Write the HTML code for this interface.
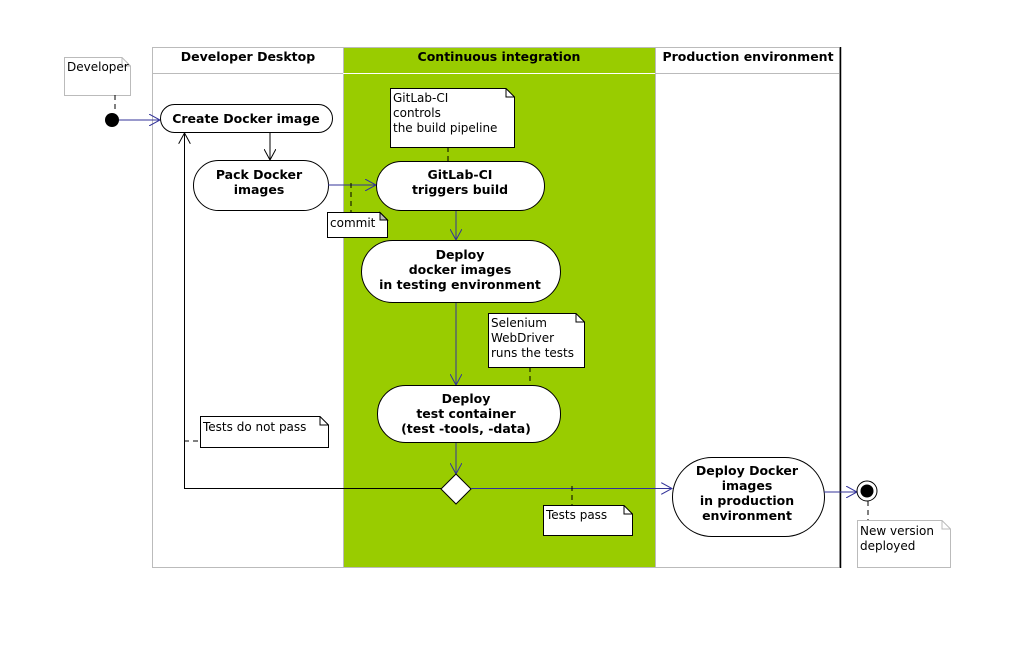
<!DOCTYPE html>
<html><head><meta charset="utf-8"><style>
html,body{margin:0;padding:0;background:#fff}
svg{display:block}
text{font-family:"DejaVu Sans","Liberation Sans",sans-serif}
.b{font-size:12.5px;font-weight:bold;text-anchor:middle}
.n{font-size:12px}
</style></head><body>
<svg width="1015" height="648" viewBox="0 0 1015 648" xmlns="http://www.w3.org/2000/svg">
<defs>
<marker id="ab" markerWidth="12" markerHeight="12" refX="11" refY="6" orient="auto" markerUnits="userSpaceOnUse"><path d="M0,0 L11,6 L0,12" fill="none" stroke="#333399" stroke-width="1"/></marker>
<marker id="ak" markerWidth="12" markerHeight="12" refX="11" refY="6" orient="auto" markerUnits="userSpaceOnUse"><path d="M0,0 L11,6 L0,12" fill="none" stroke="#000" stroke-width="1"/></marker>
</defs>
<!-- lanes -->
<rect x="343" y="47" width="312" height="521" fill="#99cc00"/>
<rect x="152.5" y="47.5" width="687" height="520" fill="none" stroke="#bbb"/>
<line x1="343.5" y1="47" x2="343.5" y2="568" stroke="#bbb"/>
<line x1="655.5" y1="47" x2="655.5" y2="568" stroke="#bbb"/>
<line x1="152" y1="73.5" x2="343" y2="73.5" stroke="#bbb"/>
<line x1="343" y1="73.5" x2="655" y2="73.5" stroke="#fff"/>
<line x1="655" y1="73.5" x2="840" y2="73.5" stroke="#bbb"/>
<line x1="840.5" y1="47" x2="840.5" y2="568" stroke="#000" stroke-width="1.5"/>
<text class="b" x="248" y="61">Developer Desktop</text>
<text class="b" x="499" y="61">Continuous integration</text>
<text class="b" x="748" y="61">Production environment</text>

<!-- Developer note -->
<path d="M64.5,57.5 H122 L130.5,66 V95.5 H64.5 Z" fill="#fff" stroke="#bbb"/>
<path d="M122,57.5 V66 H130.5" fill="none" stroke="#bbb"/>
<text class="n" x="67" y="71">Developer</text>
<line x1="115" y1="95" x2="115" y2="112" stroke="#000" stroke-dasharray="5,4"/>
<circle cx="112" cy="120" r="7" fill="#000"/>
<line x1="119" y1="120" x2="160" y2="120" stroke="#333399" marker-end="url(#ab)"/>

<!-- Create Docker image -->
<rect x="160.5" y="104.5" width="172" height="28" rx="14" fill="#fff" stroke="#000"/>
<text class="b" x="246" y="123">Create Docker image</text>
<line x1="270" y1="133" x2="270" y2="160" stroke="#000" marker-end="url(#ak)"/>

<!-- Pack -->
<rect x="193.5" y="160.5" width="135" height="50" rx="25" fill="#fff" stroke="#000"/>
<text class="b" x="259" y="179">Pack Docker</text>
<text class="b" x="259" y="194">images</text>
<line x1="328" y1="185" x2="376" y2="185" stroke="#333399" marker-end="url(#ab)"/>
<line x1="351" y1="183" x2="351" y2="212" stroke="#000" stroke-dasharray="5,4"/>
<path d="M327.5,212.5 H380 L387.5,220 V237.5 H327.5 Z" fill="#fff" stroke="#000"/>
<path d="M380,212.5 V220 H387.5 Z" fill="#bbb" stroke="#000"/>
<text class="n" x="330" y="227">commit</text>

<!-- GitLab note -->
<path d="M390.5,88.5 H506 L514.5,97 V147.5 H390.5 Z" fill="#fff" stroke="#000"/>
<path d="M506,88.5 V97 H514.5" fill="none" stroke="#000"/>
<text class="n" x="393" y="102">GitLab-CI</text>
<text class="n" x="393" y="117">controls</text>
<text class="n" x="393" y="132">the build pipeline</text>
<line x1="448" y1="147" x2="448" y2="161" stroke="#000" stroke-dasharray="5,4"/>

<rect x="376.5" y="161.5" width="168" height="49" rx="24.5" fill="#fff" stroke="#000"/>
<text class="b" x="460" y="179">GitLab-CI</text>
<text class="b" x="460" y="194">triggers build</text>
<line x1="456" y1="211" x2="456" y2="240" stroke="#333399" marker-end="url(#ab)"/>

<rect x="361.5" y="240.5" width="199" height="62" rx="31" fill="#fff" stroke="#000"/>
<text class="b" x="460" y="259">Deploy</text>
<text class="b" x="460" y="274">docker images</text>
<text class="b" x="460" y="289">in testing environment</text>
<line x1="456" y1="303" x2="456" y2="385" stroke="#333399" marker-end="url(#ab)"/>

<path d="M488.5,313.5 H576 L584.5,322 V367.5 H488.5 Z" fill="#fff" stroke="#000"/>
<path d="M576,313.5 V322 H584.5" fill="none" stroke="#000"/>
<text class="n" x="491" y="327">Selenium</text>
<text class="n" x="491" y="342">WebDriver</text>
<text class="n" x="491" y="357">runs the tests</text>
<line x1="530" y1="367" x2="530" y2="385" stroke="#000" stroke-dasharray="5,4"/>

<rect x="377.5" y="385.5" width="183" height="57" rx="28" fill="#fff" stroke="#000"/>
<text class="b" x="466" y="403">Deploy</text>
<text class="b" x="466" y="418">test container</text>
<text class="b" x="466" y="433">(test -tools, -data)</text>
<line x1="456" y1="443" x2="456" y2="474" stroke="#333399" marker-end="url(#ab)"/>

<path d="M456,474 L471,489 L456,504 L441,489 Z" fill="#fff" stroke="#000"/>
<polyline points="441,488.5 184.5,488.5 184.5,133" fill="none" stroke="#000" marker-end="url(#ak)"/>
<line x1="184" y1="441" x2="200" y2="441" stroke="#000" stroke-dasharray="5,4"/>
<path d="M200.5,416.5 H320 L328.5,425 V447.5 H200.5 Z" fill="#fff" stroke="#000"/>
<path d="M320,416.5 V425 H328.5" fill="none" stroke="#000"/>
<text class="n" x="203" y="431">Tests do not pass</text>

<line x1="471" y1="488.5" x2="672" y2="488.5" stroke="#333399" marker-end="url(#ab)"/>
<line x1="572" y1="486" x2="572" y2="505" stroke="#000" stroke-dasharray="5,4"/>
<path d="M543.5,505.5 H624 L632.5,514 V535.5 H543.5 Z" fill="#fff" stroke="#000"/>
<path d="M624,505.5 V514 H632.5" fill="none" stroke="#000"/>
<text class="n" x="546" y="519">Tests pass</text>

<rect x="672.5" y="457.5" width="152" height="79" rx="39.5" fill="#fff" stroke="#000"/>
<text class="b" x="747" y="475">Deploy Docker</text>
<text class="b" x="747" y="490">images</text>
<text class="b" x="747" y="505">in production</text>
<text class="b" x="747" y="520">environment</text>
<line x1="824" y1="492" x2="857" y2="492" stroke="#333399" marker-end="url(#ab)"/>

<circle cx="867" cy="491" r="10" fill="#fff" stroke="#000"/>
<circle cx="867" cy="491" r="6.5" fill="#000"/>
<line x1="868" y1="501" x2="868" y2="520" stroke="#000" stroke-dasharray="5,4"/>
<path d="M857.5,520.5 H942 L950.5,529 V567.5 H857.5 Z" fill="#fff" stroke="#bbb"/>
<path d="M942,520.5 V529 H950.5" fill="none" stroke="#bbb"/>
<text class="n" x="860" y="535">New version</text>
<text class="n" x="860" y="550">deployed</text>
</svg>
</body></html>
